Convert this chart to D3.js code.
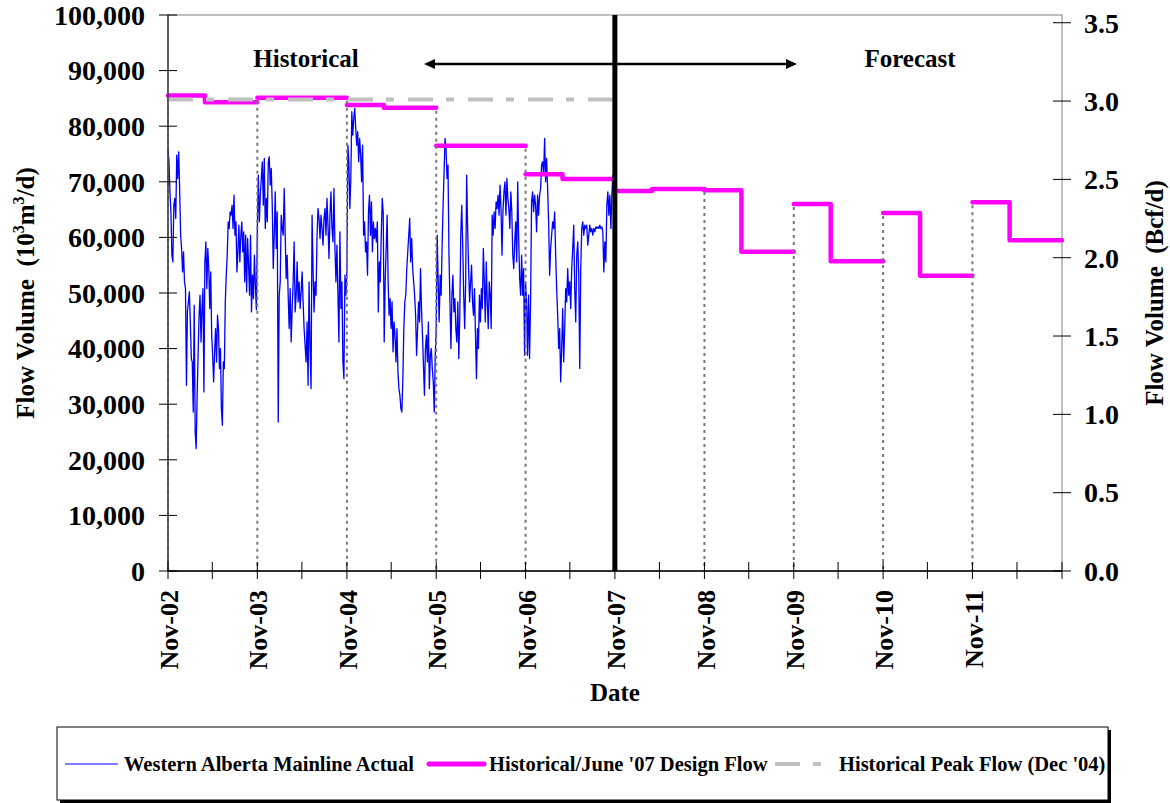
<!DOCTYPE html>
<html>
<head>
<meta charset="utf-8">
<script src="https://cdn.jsdelivr.net/npm/d3@7"></script>
<style>
  body { margin: 0; background: #fff; }
  svg { display: block; }
  text { font-family: "Liberation Serif", "Times New Roman", serif; font-weight: bold; fill: #000; white-space: pre; }
</style>
</head>
<body>
<svg id="chart" width="1170" height="803"></svg>
<script>
// Western Alberta Mainline daily throughput, 10^3 m3/d (in thousands), one array per gas year (Nov-Nov)
const actual2002 = [76, 73.6, 68.2, 64.6, 56.8, 55.6, 65.8, 67, 63.4, 74.8, 70.6, 75.4, 68.8, 60.4, 58, 53.8, 57.4, 52, 50.8, 33.4, 46.6, 48.4, 50.2, 44.8, 38.2, 37.6, 28.6, 47.8, 25, 22, 31.6, 38.8, 46, 49.6, 41.2, 47.2, 50.8, 32.2, 55.6, 59.2, 50.8, 58, 54.4, 47.2, 53.8, 42.4, 38.8, 34, 39.4, 43.6, 37.6, 46, 43.6, 36.4, 40, 29.2, 26.2, 37.6, 36.4, 48.4, 53.2, 56.8, 62.8, 61.6, 64.6, 64, 65.8, 61.6, 67.6, 60.4, 62.8, 53.8, 57.4, 62.2, 55.6, 60.4, 62.8, 57.4, 61, 52, 60.4, 50.2, 59.8, 55, 49.6, 60.4, 46.6, 53.2, 49, 56.8, 51.4, 47];
const actual2003 = [61.6, 71.2, 62.8, 67.6, 70.6, 73.6, 65.8, 74.2, 61.6, 67, 62.8, 73.6, 74.5, 69.4, 72.4, 65.8, 54.4, 60.4, 68.2, 58, 64.6, 26.8, 49.6, 52, 64, 61.6, 60.4, 68.8, 60.4, 52.6, 56.8, 49.6, 43.6, 50.8, 41.2, 47.2, 52, 59.2, 46.6, 49.6, 55.6, 48.4, 52, 47.2, 50.2, 53.8, 48.4, 43.6, 40.6, 37.6, 44.8, 33.4, 52, 40, 32.8, 64, 54.4, 46.6, 52, 49.6, 60.4, 65.2, 63.4, 59.8, 64, 61.6, 58.6, 63.4, 65.2, 60.4, 67, 62.2, 56.2, 64, 68.2, 61.6, 59.2, 68.8, 58, 52, 58.6, 49.6, 41.2, 61, 47.2, 52, 37.6, 34.6, 53.2, 49.6];
const actual2004 = [54, 76.6, 73.6, 65.2, 70.6, 82.6, 78.4, 81.4, 83.2, 79.6, 76.6, 79, 73.6, 77.8, 74.8, 70, 76.6, 60.4, 62.8, 57.4, 59.2, 53.2, 64.6, 67.6, 60.4, 66.4, 57.4, 62.8, 59.8, 61.6, 59.2, 62.8, 46.6, 55.6, 52, 60.4, 67, 64.6, 41.2, 52, 58, 64, 52, 46, 49, 43.6, 48.4, 39.4, 44.8, 42.4, 37.6, 43.6, 35.8, 32.8, 31.6, 29.2, 28.6, 34.6, 43.6, 48.4, 49.6, 54.4, 57.4, 60.4, 63.4, 55.6, 59.8, 54.4, 52, 49.6, 46, 38.8, 43.6, 48.4, 44.8, 54.4, 47.2, 42.4, 37, 31.6, 40, 42.4, 37.6, 44.8, 32.8, 38.8, 40, 36.4, 34, 28.6, 38.8];
const actual2005 = [43.6, 60.4, 52, 44.8, 53.2, 49.6, 58.6, 65.8, 71.8, 77.8, 76, 70.6, 73, 56.8, 48.4, 40, 49.6, 53.2, 46.6, 49, 43.6, 41.2, 48.4, 38.2, 46, 60.4, 65.8, 58.6, 49.6, 43.6, 52, 71.2, 61.6, 54.4, 48.4, 52, 55, 48.4, 46, 50.8, 42.4, 34.6, 43.6, 40, 49.6, 44.8, 50.8, 47.2, 58, 52, 44.8, 55.6, 48.4, 43.6, 52, 49.6, 43.6, 64, 60.4, 64.6, 61.6, 66.4, 65.2, 67.6, 64, 69.4, 65.2, 56.8, 64.6, 68.2, 70, 64, 70.6, 67, 65.2, 61.6, 68.2, 64.6, 56.8, 54.4, 59.2, 62.8, 55.6, 70, 59.8, 52.6, 49.6, 56.8, 49.6, 54.4, 38.8];
const actual2006 = [52, 48.4, 38.8, 49.6, 38.2, 48.4, 66.4, 68.2, 64.6, 67.6, 65.8, 61, 67.6, 64, 67.6, 68.8, 73, 73.6, 71.2, 77.8, 70, 74.2, 68.8, 62.8, 53.2, 58, 60.4, 62.8, 61.6, 64.6, 56.8, 50.8, 46, 40, 43.6, 34, 40, 47.2, 37.6, 43.6, 50.8, 48.4, 54.4, 49.6, 52, 47.2, 54.4, 58, 62.2, 50.8, 44.8, 56.8, 59.2, 53.2, 36.4, 54.4, 61.6, 62.8, 60.4, 62.2, 61.6, 62.2, 58.6, 60.4, 62.2, 61, 61.6, 60.4, 61.6, 61, 61.9, 61.6, 61.9, 61.6, 62.2, 61.6, 61.9, 61, 53.8, 59.2, 55.6, 65.8, 68.2, 64, 67.6, 61.6, 67.6, 71.2, 65.8];
const actualYears = [2002, 2003, 2004, 2005, 2006];
const actualSeries = [actual2002, actual2003, actual2004, actual2005, actual2006];

// Historical / June '07 design flow: step start dates and levels (10^3 m3/d, thousands)
const designStart = ["2002-11-01", "2003-04-01", "2003-11-01", "2004-11-01", "2005-04-01", "2005-11-01",
  "2006-11-01", "2007-04-01", "2007-11-01", "2008-04-01", "2008-11-01", "2009-04-01", "2009-11-01",
  "2010-04-01", "2010-11-01", "2011-04-01", "2011-11-01", "2012-04-01"];
const designFlow = [85.5, 84.3, 85.1, 83.8, 83.3, 76.5, 71.35, 70.5, 68.35, 68.7, 68.5, 57.4, 66.0,
  55.7, 64.4, 53.1, 66.3, 59.5];

// Historical peak flow (Dec '04)
const peakFlow = 84.8;
const peakRange = ["2002-11-01", "2007-11-01"];

// Boundary between history and forecast
const forecastStart = "2007-11-01";

// Axis ticks and labels
const xDomain = ["2002-11-01", "2012-11-01"];
const yLeftTicks = [0, 10, 20, 30, 40, 50, 60, 70, 80, 90, 100];
const yRightTicks = [0, 0.5, 1.0, 1.5, 2.0, 2.5, 3.0, 3.5];
const labelYears = [2002, 2003, 2004, 2005, 2006, 2007, 2008, 2009, 2010, 2011];
const M3_PER_BCF = 28174; // 10^3 m3 per Bcf

const legendLabels = ["Western Alberta Mainline Actual", "Historical/June '07 Design Flow", "Historical Peak Flow (Dec '04)"];

const parse = d3.utcParse("%Y-%m-%d");
const fmtX = d3.utcFormat("Nov-%y");

const svg = d3.select("#chart");
const L = 168, R = 1062, T = 15, B = 571;

const x = d3.scaleUtc().domain(xDomain.map(parse)).range([L, R]);
const y = d3.scaleLinear().domain([0, 100]).range([B, T]);
const yR = d3.scaleLinear().domain([0, 100000 / M3_PER_BCF]).range([B, T]);

// plot frame
svg.append("rect").attr("x", L).attr("y", T).attr("width", R - L).attr("height", B - T)
  .attr("fill", "none").attr("stroke", "#808080").attr("stroke-width", 1);

// actual flow series
const actualPts = [];
actualSeries.forEach((arr, k) => {
  const s = Date.UTC(actualYears[k], 10, 1), e = Date.UTC(actualYears[k] + 1, 10, 1);
  arr.forEach((v, i) => actualPts.push({ d: new Date(s + (e - s) * i / arr.length), v }));
});
actualPts.push({ d: parse(forecastStart), v: actual2006[actual2006.length - 1] });

const line = d3.line().x(p => x(p.d)).y(p => y(p.v));
svg.append("path").datum(actualPts).attr("d", line)
  .attr("fill", "none").attr("stroke", "#0000ff").attr("stroke-width", 1.3).attr("stroke-linejoin", "round");

// design flow steps, one path per gas year
const steps = designStart.map((s, i) => ({ d: parse(s), v: designFlow[i] }));
const dropLines = [];
for (let g = 2002; g <= 2011; g++) {
  const s = Date.UTC(g, 10, 1), e = Date.UTC(g + 1, 10, 1);
  const seg = steps.filter(p => +p.d >= s && +p.d < e);
  const prev = steps.filter(p => +p.d < s);
  const prevV = prev.length ? prev[prev.length - 1].v : seg[0].v;
  dropLines.push({ d: new Date(s), v: Math.max(prevV, seg[0].v) });
  seg.push({ d: new Date(e), v: seg[seg.length - 1].v });
  svg.append("path").datum(seg)
    .attr("d", d3.line().curve(d3.curveStepAfter).x(p => x(p.d)).y(p => y(p.v)))
    .attr("fill", "none").attr("stroke", "#ff00ff").attr("stroke-width", 4.5)
    .attr("stroke-linecap", "round").attr("stroke-linejoin", "round");
}

// drop lines from each November design level
svg.selectAll("line.drop").data(dropLines).join("line").attr("class", "drop")
  .attr("x1", p => x(p.d)).attr("x2", p => x(p.d))
  .attr("y1", p => y(p.v) + 3).attr("y2", B)
  .attr("stroke", "#777").attr("stroke-width", 2).attr("stroke-dasharray", "3,4");

// historical peak flow
svg.append("line")
  .attr("x1", x(parse(peakRange[0]))).attr("x2", x(parse(peakRange[1])))
  .attr("y1", y(peakFlow)).attr("y2", y(peakFlow))
  .attr("stroke", "#c0c0c0").attr("stroke-width", 4).attr("stroke-dasharray", "25,13,8,14");

// axes
const axisLeft = svg.append("g");
axisLeft.append("line").attr("x1", L).attr("x2", L).attr("y1", T).attr("y2", B).attr("stroke", "#404040").attr("stroke-width", 1.5);
axisLeft.selectAll("line.t").data(yLeftTicks).join("line").attr("class", "t")
  .attr("x1", L - 9).attr("x2", L + 9).attr("y1", d => y(d)).attr("y2", d => y(d)).attr("stroke", "#000");
axisLeft.selectAll("text").data(yLeftTicks).join("text")
  .attr("x", L - 23).attr("y", d => y(d)).attr("dy", "0.35em").attr("text-anchor", "end")
  .attr("font-size", 28).text(d => d3.format(",")(d * 1000));

const axisRight = svg.append("g");
axisRight.selectAll("line.t").data(yRightTicks).join("line").attr("class", "t")
  .attr("x1", R - 9).attr("x2", R + 9).attr("y1", d => yR(d)).attr("y2", d => yR(d)).attr("stroke", "#000");
axisRight.selectAll("text").data(yRightTicks).join("text")
  .attr("x", R + 22).attr("y", d => yR(d)).attr("dy", "0.35em").attr("text-anchor", "start")
  .attr("font-size", 28).text(d => d3.format(".1f")(d));

const axisBottom = svg.append("g");
axisBottom.append("line").attr("x1", L).attr("x2", R).attr("y1", B).attr("y2", B).attr("stroke", "#000").attr("stroke-width", 1.5);
const halfYears = d3.utcMonth.range(parse(xDomain[0]), d3.utcDay.offset(parse(xDomain[1]), 1))
  .filter(d => d.getUTCMonth() === 10 || d.getUTCMonth() === 4);
axisBottom.selectAll("line.t").data(halfYears).join("line").attr("class", "t")
  .attr("x1", d => x(d)).attr("x2", d => x(d)).attr("y1", B - 9).attr("y2", B + 8).attr("stroke", "#000");
axisBottom.selectAll("text").data(labelYears.map(yr => new Date(Date.UTC(yr, 10, 1)))).join("text")
  .attr("transform", d => `translate(${x(d) + 1},${B + 19}) rotate(-90)`)
  .attr("dy", "0.35em").attr("text-anchor", "end").attr("font-size", 26).text(d => fmtX(d));

// axis titles
const tl = svg.append("text").attr("transform", `translate(34,${(T + B) / 2}) rotate(-90)`)
  .attr("text-anchor", "middle").attr("font-size", 25);
tl.append("tspan").text("Flow Volume  (10");
tl.append("tspan").attr("font-size", 16).attr("dy", -10).text("3");
tl.append("tspan").attr("dy", 10).text("m");
tl.append("tspan").attr("font-size", 16).attr("dy", -10).text("3");
tl.append("tspan").attr("dy", 10).text("/d)");

svg.append("text").attr("transform", `translate(1163,${(T + B) / 2}) rotate(-90)`)
  .attr("text-anchor", "middle").attr("font-size", 25).text("Flow Volume  (Bcf/d)");

svg.append("text").attr("x", x(parse(forecastStart))).attr("y", 701).attr("text-anchor", "middle")
  .attr("font-size", 25).text("Date");

// history / forecast divider and arrows
const xf = x(parse(forecastStart));
svg.append("line").attr("x1", xf).attr("x2", xf).attr("y1", T).attr("y2", B)
  .attr("stroke", "#000").attr("stroke-width", 5);
svg.append("line").attr("x1", 432).attr("x2", 788).attr("y1", 64).attr("y2", 64)
  .attr("stroke", "#000").attr("stroke-width", 2.5);
svg.append("path").attr("d", "M424,64 L435,59 L435,69 Z").attr("fill", "#000");
svg.append("path").attr("d", "M797,64 L786,59 L786,69 Z").attr("fill", "#000");
svg.append("text").attr("x", 306).attr("y", 67).attr("text-anchor", "middle").attr("font-size", 25).text("Historical");
svg.append("text").attr("x", 910).attr("y", 67).attr("text-anchor", "middle").attr("font-size", 25).text("Forecast");

// legend
const lg = svg.append("g");
lg.append("rect").attr("x", 60).attr("y", 730).attr("width", 1051).attr("height", 73).attr("fill", "#000");
lg.append("rect").attr("x", 57).attr("y", 727).attr("width", 1051).attr("height", 73)
  .attr("fill", "#fff").attr("stroke", "#000").attr("stroke-width", 1);
const ly = 764;
lg.append("line").attr("x1", 65).attr("x2", 118).attr("y1", ly).attr("y2", ly).attr("stroke", "#0000ff").attr("stroke-width", 1.2);
lg.append("line").attr("x1", 429).attr("x2", 484).attr("y1", ly).attr("y2", ly).attr("stroke", "#ff00ff").attr("stroke-width", 5).attr("stroke-linecap", "round");
lg.append("line").attr("x1", 775).attr("x2", 832).attr("y1", ly).attr("y2", ly).attr("stroke", "#c0c0c0").attr("stroke-width", 4).attr("stroke-dasharray", "25,13,8,14");
[124, 489, 839].forEach((lx, i) => {
  lg.append("text").attr("x", lx).attr("y", ly).attr("dy", "0.35em").attr("font-size", 20.5).text(legendLabels[i]);
});
</script>
</body>
</html>
